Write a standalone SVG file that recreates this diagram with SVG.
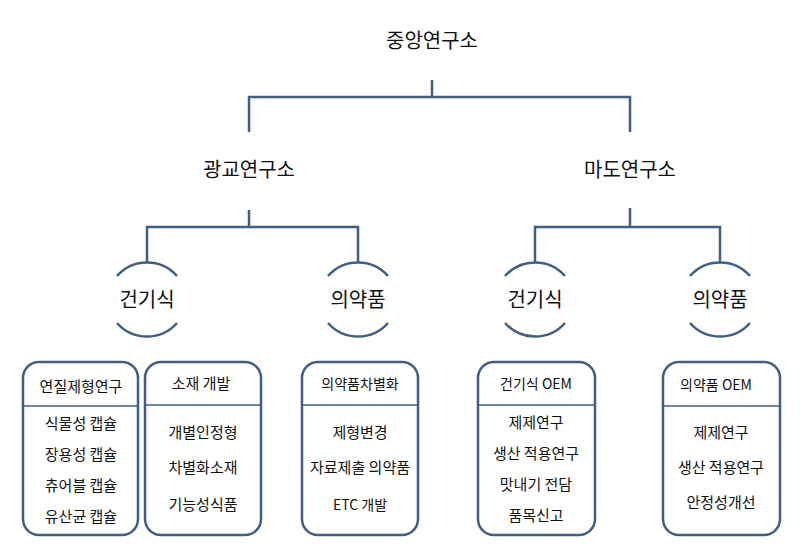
<svg xmlns="http://www.w3.org/2000/svg" width="805" height="559" viewBox="0 0 805 559">
<style>
.l{stroke:#3f5f86;stroke-width:2.5;fill:none}
.b{stroke:#3f5f86;stroke-width:2.5;fill:#fff}
.d{stroke:#3f5f86;stroke-width:1.3}
text{font-family:"Noto Sans CJK KR","Malgun Gothic",sans-serif;fill:#111;text-anchor:middle}
.h{font-size:20px}.s{font-size:15px}.e{font-size:14px}
</style>
<rect width="805" height="559" fill="#fff"/>
<g id="connectors" class="l">
<path d="M432 80V97M249 132V97H630V132"/>
<path d="M249 210V227M147 262V227H358V262"/>
<path d="M630 208V227M535 262V227H720V262"/>
<path d="M117 276A40 40 0 0 1 177 276M117 323A40 40 0 0 0 177 323"/>
<path d="M328 276A40 40 0 0 1 388 276M328 323A40 40 0 0 0 388 323"/>
<path d="M505 276A40 40 0 0 1 565 276M505 323A40 40 0 0 0 565 323"/>
<path d="M690 276A40 40 0 0 1 750 276M690 323A40 40 0 0 0 750 323"/>
</g>
<g id="n-root"><text x="432" y="48" class="h">중앙연구소</text></g>
<g id="n-gwanggyo"><text x="249" y="177" class="h">광교연구소</text></g>
<g id="n-mado"><text x="630" y="177" class="h">마도연구소</text></g>
<g id="n-g1"><text x="147" y="307" class="h">건기식</text></g>
<g id="n-g2"><text x="358" y="307" class="h">의약품</text></g>
<g id="n-m1"><text x="535" y="307" class="h">건기식</text></g>
<g id="n-m2"><text x="720" y="307" class="h">의약품</text></g>
<g id="b1"><rect x="23" y="362" width="115" height="173" rx="16" class="b"/><line x1="24" y1="406" x2="137" y2="406" class="d"/>
<text x="81" y="392" class="s">연질제형연구</text><text x="81" y="429" class="s">식물성 캡슐</text><text x="81" y="460" class="s">장용성 캡슐</text><text x="81" y="491" class="s">츄어블 캡슐</text><text x="81" y="522" class="s">유산균 캡슐</text></g>
<g id="b2"><rect x="145" y="362" width="116" height="173" rx="16" class="b"/><line x1="146" y1="405" x2="260" y2="405" class="d"/>
<text x="201" y="389" class="s">소재 개발</text><text x="203" y="438" class="s">개별인정형</text><text x="203" y="473" class="s">차별화소재</text><text x="203" y="510" class="s">기능성식품</text></g>
<g id="b3"><rect x="302" y="362" width="116" height="173" rx="16" class="b"/><line x1="303" y1="405" x2="417" y2="405" class="d"/>
<text x="360" y="389" class="e">의약품차별화</text><text x="360" y="438" class="s">제형변경</text><text x="360" y="473" class="s">자료제출 의약품</text><text x="360" y="510" class="e">ETC 개발</text></g>
<g id="b4"><rect x="478" y="362" width="117" height="173" rx="16" class="b"/><line x1="479" y1="405" x2="594" y2="405" class="d"/>
<text x="536" y="389" class="e">건기식 OEM</text><text x="536" y="428" class="s">제제연구</text><text x="536" y="459" class="s">생산 적용연구</text><text x="536" y="490" class="s">맛내기 전담</text><text x="536" y="521" class="s">품목신고</text></g>
<g id="b5"><rect x="663" y="362" width="117" height="173" rx="16" class="b"/><line x1="664" y1="406" x2="779" y2="406" class="d"/>
<text x="716" y="390" class="e">의약품 OEM</text><text x="721" y="438" class="s">제제연구</text><text x="721" y="473" class="s">생산 적용연구</text><text x="721" y="508" class="s">안정성개선</text></g>
</svg>
